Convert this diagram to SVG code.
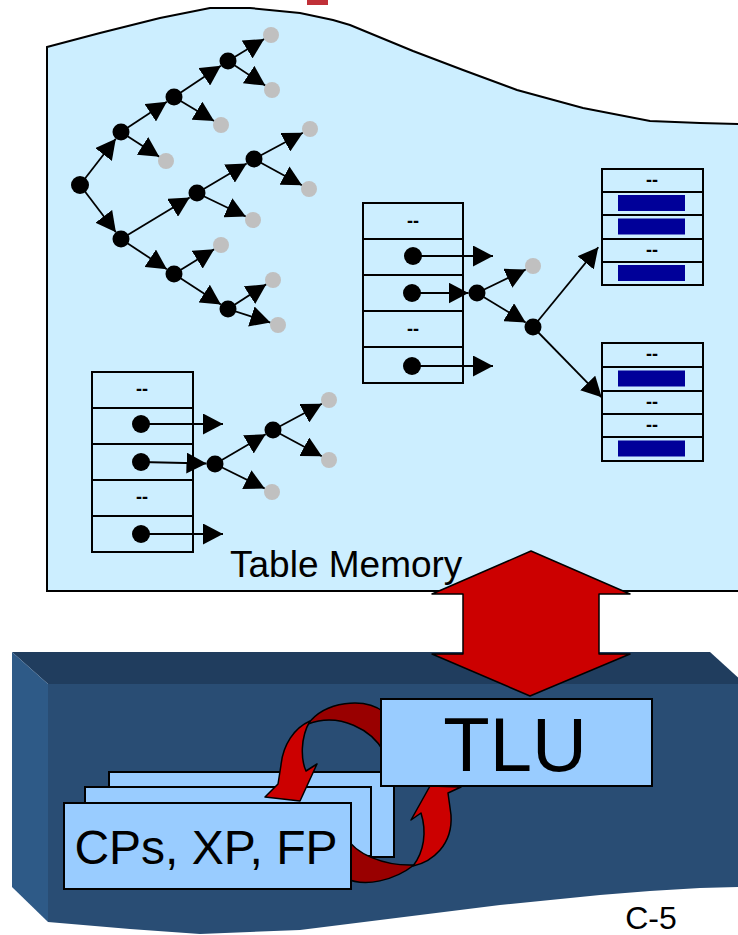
<svg xmlns="http://www.w3.org/2000/svg" width="738" height="935" viewBox="0 0 738 935">
<style>
.tbl{fill:#cceeff;stroke:#000;stroke-width:2}
.div{stroke:#000;stroke-width:2}
.dash{font-family:"Liberation Sans",Arial,sans-serif;font-size:18px;font-weight:bold;text-anchor:middle;fill:#000}
.bar{fill:#000099}
.blk{fill:#000}
.gry{fill:#c0c0c0}
.edge{stroke:#000;stroke-width:1.8;fill:none;marker-end:url(#ah)}
.box{fill:#99ccff;stroke:#000;stroke-width:2}
.red{fill:#cc0000;stroke:#000;stroke-width:1.5;stroke-linejoin:round}
.dred{fill:#990000;stroke:#000;stroke-width:1.5;stroke-linejoin:round}
.lbl{font-family:"Liberation Sans",Arial,sans-serif;fill:#000}
</style>
<defs>
<marker id="ah" markerUnits="userSpaceOnUse" markerWidth="20" markerHeight="21" viewBox="0 0 20 21" refX="20" refY="10.5" orient="auto">
<path d="M0,0 L20,10.5 L0,21 Z" fill="#000"/>
</marker>
</defs>
<rect width="738" height="935" fill="#ffffff"/>
<rect x="307" y="0" width="21" height="5" fill="#c03038"/>
<g id="table-memory">
<path d="M47,47 L100,33 L160,18 L210,8 L250,8 L300,13 L333,20 L350,25 L413,51 L463,70 L517,90 L583,108 L650,121 L700,123 L742,124 L742,591 L47,591 Z" fill="#cceeff" stroke="#000" stroke-width="2"/>
<text class="lbl" x="230" y="577" font-size="37">Table Memory</text>
</g>
<g id="processor">
<path d="M12,652 L710,652 L742,681 L742,684 L48,684 Z" fill="#203d5e"/>
<path d="M48,684 L742,684 L742,887 L700,888 L650,891 L600,895 L500,905 L420,915 L300,930 L200,934 L130,929 L48,922 Z" fill="#294d74"/>
<path d="M12,652 L48,684 L48,922 L12,887 Z" fill="#2e5a87"/>
<text class="lbl" x="651" y="929" font-size="32" text-anchor="middle">C-5</text>
</g>
<g id="table-mid">
<rect class="tbl" x="363" y="203" width="100" height="180"/>
<path class="div" d="M363,239H463M363,275H463M363,311H463M363,347H463"/>
<text class="dash" x="413" y="227">--</text>
<text class="dash" x="413" y="335">--</text>
</g>
<g id="table-right-top">
<rect class="tbl" x="602" y="169" width="101" height="116"/>
<path class="div" d="M602,192H703M602,215H703M602,239H703M602,262H703"/>
<text class="dash" x="652" y="186">--</text>
<rect class="bar" x="618" y="195" width="67" height="16"/>
<rect class="bar" x="618" y="218.5" width="67" height="16"/>
<text class="dash" x="652" y="256">--</text>
<rect class="bar" x="618" y="265" width="67" height="16"/>
</g>
<g id="table-right-bottom">
<rect class="tbl" x="602" y="343" width="101" height="118"/>
<path class="div" d="M602,367H703M602,391H703M602,414H703M602,437H703"/>
<text class="dash" x="652" y="360">--</text>
<rect class="bar" x="618" y="370.5" width="67" height="16"/>
<text class="dash" x="652" y="408">--</text>
<text class="dash" x="652" y="431">--</text>
<rect class="bar" x="618" y="440.5" width="67" height="16"/>
</g>
<g id="table-left">
<rect class="tbl" x="92" y="372" width="101" height="180"/>
<path class="div" d="M92,408H193M92,444H193M92,480H193M92,516H193"/>
<text class="dash" x="142" y="395">--</text>
<text class="dash" x="142" y="503">--</text>
</g>
<g id="connectors">
<line class="edge" x1="80" y1="185" x2="115.8" y2="138.7"/>
<line class="edge" x1="80" y1="185" x2="115.9" y2="232.2"/>
<line class="edge" x1="121" y1="132" x2="166.9" y2="101.7"/>
<line class="edge" x1="121" y1="132" x2="159.3" y2="156.7"/>
<line class="edge" x1="174" y1="97" x2="220.9" y2="65.7"/>
<line class="edge" x1="174" y1="97" x2="214.1" y2="120.9"/>
<line class="edge" x1="228" y1="61" x2="264.2" y2="39.1"/>
<line class="edge" x1="228" y1="61" x2="265.3" y2="85.6"/>
<line class="edge" x1="121" y1="239" x2="189.7" y2="197.4"/>
<line class="edge" x1="121" y1="239" x2="166.9" y2="269.3"/>
<line class="edge" x1="197" y1="193" x2="246.7" y2="163.4"/>
<line class="edge" x1="197" y1="193" x2="245.8" y2="216.5"/>
<line class="edge" x1="254" y1="159" x2="302.9" y2="132.8"/>
<line class="edge" x1="254" y1="159" x2="302" y2="185.2"/>
<line class="edge" x1="174" y1="274" x2="214.2" y2="249.2"/>
<line class="edge" x1="174" y1="274" x2="220.9" y2="304.4"/>
<line class="edge" x1="228" y1="309" x2="266.3" y2="284.3"/>
<line class="edge" x1="228" y1="309" x2="270.4" y2="322.6"/>
<line class="edge" x1="413" y1="256" x2="493" y2="256"/>
<line class="edge" x1="412" y1="293" x2="468.5" y2="293"/>
<line class="edge" x1="412" y1="366" x2="493" y2="366"/>
<line class="edge" x1="477" y1="293" x2="525.8" y2="269.5"/>
<line class="edge" x1="477" y1="293" x2="525.7" y2="322.6"/>
<line class="edge" x1="533" y1="327" x2="598.3" y2="247.3"/>
<line class="edge" x1="533" y1="327" x2="601.7" y2="397.3"/>
<line class="edge" x1="141" y1="424" x2="223" y2="424"/>
<line class="edge" x1="141" y1="462" x2="206.5" y2="463.5"/>
<line class="edge" x1="141" y1="534" x2="223" y2="534"/>
<line class="edge" x1="215" y1="464" x2="265.7" y2="434.3"/>
<line class="edge" x1="215" y1="464" x2="264.8" y2="488.5"/>
<line class="edge" x1="273" y1="430" x2="321.9" y2="403.8"/>
<line class="edge" x1="273" y1="430" x2="321.9" y2="456.2"/>
</g>
<g id="tree-top">
<circle class="blk" cx="80" cy="185" r="9"/>
<circle class="blk" cx="121" cy="132" r="8.5"/>
<circle class="blk" cx="121" cy="239" r="8.5"/>
<circle class="blk" cx="174" cy="97" r="8.5"/>
<circle class="blk" cx="228" cy="61" r="8.5"/>
<circle class="blk" cx="197" cy="193" r="8.5"/>
<circle class="blk" cx="254" cy="159" r="8.5"/>
<circle class="blk" cx="174" cy="274" r="8.5"/>
<circle class="blk" cx="228" cy="309" r="8.5"/>
<circle class="gry" cx="166" cy="161" r="8"/>
<circle class="gry" cx="221" cy="125" r="8"/>
<circle class="gry" cx="271" cy="35" r="8"/>
<circle class="gry" cx="272" cy="90" r="8"/>
<circle class="gry" cx="253" cy="220" r="8"/>
<circle class="gry" cx="310" cy="129" r="8"/>
<circle class="gry" cx="309" cy="189" r="8"/>
<circle class="gry" cx="221" cy="245" r="8"/>
<circle class="gry" cx="273" cy="280" r="8"/>
<circle class="gry" cx="278" cy="325" r="8"/>
</g>
<g id="tree-mid">
<circle class="blk" cx="413" cy="256" r="9"/>
<circle class="blk" cx="412" cy="293" r="9"/>
<circle class="blk" cx="412" cy="366" r="9"/>
<circle class="blk" cx="477" cy="293" r="8.5"/>
<circle class="blk" cx="533" cy="327" r="8.5"/>
<circle class="gry" cx="533" cy="266" r="8"/>
</g>
<g id="tree-left">
<circle class="blk" cx="141" cy="424" r="9"/>
<circle class="blk" cx="141" cy="462" r="9"/>
<circle class="blk" cx="141" cy="534" r="9"/>
<circle class="blk" cx="215" cy="464" r="8.5"/>
<circle class="blk" cx="273" cy="430" r="8.5"/>
<circle class="gry" cx="272" cy="492" r="8"/>
<circle class="gry" cx="329" cy="400" r="8"/>
<circle class="gry" cx="329" cy="460" r="8"/>
</g>
<g id="transfer-arrow">
<path class="red" d="M531,551 L630,594 L599,594 L599,654 L630,654 L530,696 L432,654 L463,654 L463,594 L432,594 Z"/>
</g>
<g id="cp-back">
<rect class="box" x="109" y="772" width="285" height="85"/>
<rect class="box" x="85" y="787" width="286" height="69"/>
</g>
<g id="loop-arrows">
<path class="dred" d="M308,724 C325,701 364,697 384,712 L384,752 C372,730 340,712 308,724 Z"/>
<path class="red" d="M310,721 C294,728 283,745 281,765 L278,784 L265,797 L300,801 L317,764 L306,771 C301,760 300,738 310,721 Z"/>
<path class="dred" d="M345,835 C355,855 385,866 414,865 C395,880 365,888 345,878 Z"/>
<path class="red" d="M413,866 C432,862 453,845 451,815 L448,793 L461,787 L430,786 L411,820 L421,813 C427,832 424,852 413,866 Z"/>
</g>
<g id="cp-front">
<rect class="box" x="64" y="803" width="287" height="86"/>
<text class="lbl" x="206" y="864" font-size="48" text-anchor="middle">CPs, XP, FP</text>
</g>
<g id="tlu">
<rect class="box" x="381" y="699" width="271" height="87"/>
<text class="lbl" x="515" y="771" font-size="76" text-anchor="middle">TLU</text>
</g>
</svg>
